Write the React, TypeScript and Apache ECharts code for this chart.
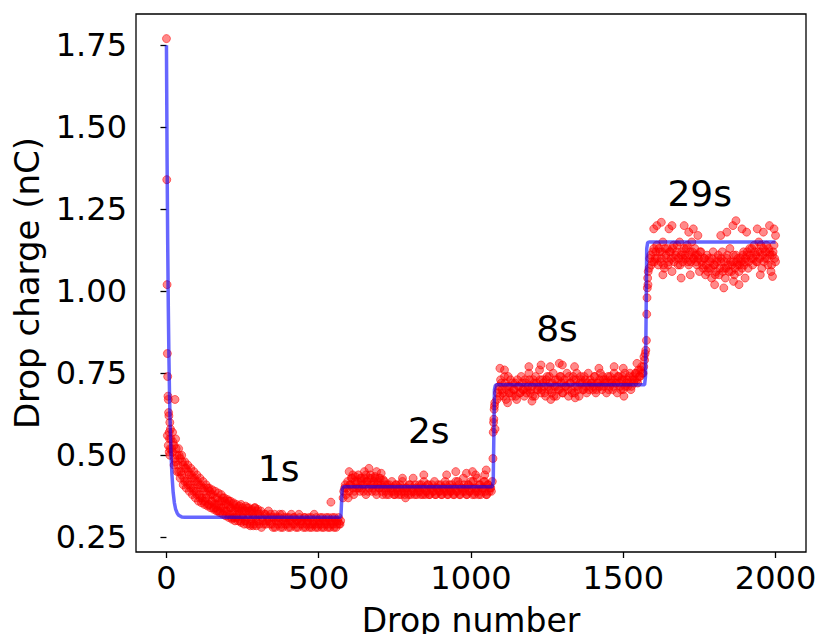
import React, { useEffect, useRef } from "react";
import * as echarts from "echarts";

const xTicks = [0, 500, 1000, 1500, 2000];
const yTicks = [0.25, 0.5, 0.75, 1.0, 1.25, 1.5, 1.75];

// first drops (explicit x)
const earlyX = [0, 1, 2, 3, 4, 5, 6, 7, 8, 9, 10, 11, 12, 13, 28, 3, 6, 9, 11];
const earlyY = [1.77, 1.34, 1.02, 0.81, 0.74, 0.68, 0.67, 0.63, 0.62, 0.57, 0.55, 0.6, 0.52, 0.58, 0.67, 0.56, 0.53, 0.51, 0.5];

// banded segments, drop number = start + step * index
const segStep = 5;
const seg1Start = 15;
const seg1Y = [
  0.55, 0.51, 0.53, 0.48, 0.5, 0.45, 0.49, 0.44, 0.47, 0.42, 0.46, 0.41, 0.44, 0.4, 0.43, 0.39, 0.42, 0.38, 0.41, 0.37,
  0.4, 0.36, 0.39, 0.37, 0.4, 0.35, 0.38, 0.36, 0.34, 0.37, 0.35, 0.33, 0.36, 0.34, 0.37, 0.33, 0.35, 0.32, 0.36, 0.34,
  0.31, 0.35, 0.33, 0.31, 0.34, 0.32, 0.35, 0.31, 0.33, 0.3, 0.34, 0.32, 0.29, 0.33, 0.31, 0.34, 0.3, 0.32, 0.29, 0.33,
  0.31, 0.29, 0.32, 0.3, 0.33, 0.29, 0.31, 0.28, 0.32, 0.3, 0.29, 0.31, 0.28, 0.32, 0.3, 0.29, 0.31, 0.28, 0.3, 0.32,
  0.29, 0.31, 0.28, 0.3, 0.32, 0.29, 0.3, 0.28, 0.31, 0.29, 0.3, 0.28, 0.31, 0.29, 0.32, 0.28, 0.3, 0.29, 0.31, 0.28,
  0.3, 0.29, 0.31, 0.28, 0.3, 0.29, 0.31, 0.28, 0.3, 0.29, 0.31, 0.29,
];
const seg1bStart = 17;
const seg1bY = [
  0.52, 0.54, 0.49, 0.52, 0.47, 0.5, 0.45, 0.48, 0.43, 0.46,
  0.42, 0.45, 0.41, 0.44, 0.4, 0.43, 0.39, 0.42, 0.38, 0.41,
  0.37, 0.4, 0.36, 0.38, 0.35, 0.39, 0.36, 0.38, 0.35, 0.34,
  0.37, 0.35, 0.33, 0.36, 0.34, 0.36, 0.33, 0.35, 0.32, 0.34,
  0.33, 0.31, 0.34, 0.32, 0.33, 0.3, 0.33, 0.32, 0.3, 0.33,
  0.31, 0.33, 0.3, 0.32, 0.29, 0.31, 0.33, 0.3, 0.32, 0.28,
  0.3, 0.32, 0.29, 0.31, 0.3, 0.32, 0.29, 0.31, 0.28, 0.31,
  0.3, 0.32, 0.29, 0.28, 0.31, 0.3, 0.29, 0.31, 0.28, 0.3,
  0.31, 0.29, 0.3, 0.28, 0.31, 0.3, 0.29, 0.31, 0.28, 0.3,
  0.31, 0.29, 0.28, 0.3, 0.29, 0.31, 0.28, 0.3, 0.29, 0.31,
  0.28, 0.3, 0.29, 0.31, 0.28, 0.3, 0.29, 0.31, 0.28, 0.3,
  0.29, 0.3,
];
// outer edges of the early decaying band
const seg1cStart = 20;
const seg1cY = [
  0.57, 0.47, 0.55, 0.45, 0.52, 0.43, 0.5, 0.41, 0.48, 0.4,
  0.47, 0.39, 0.46, 0.38, 0.45, 0.37, 0.44, 0.36, 0.43, 0.355,
  0.42, 0.35, 0.41, 0.345, 0.4, 0.34, 0.395, 0.335, 0.39, 0.33,
  0.385, 0.325, 0.38, 0.32, 0.37, 0.315, 0.365, 0.31, 0.36, 0.305,
  0.355, 0.3, 0.35, 0.3, 0.345, 0.295, 0.34, 0.29, 0.345, 0.29,
  0.34, 0.285, 0.335, 0.285, 0.34, 0.285, 0.335,
];
const seg2Start = 580;
const seg2Y = [
  0.37, 0.4, 0.38, 0.42, 0.39, 0.41, 0.43, 0.38, 0.42, 0.4, 0.44, 0.39, 0.42, 0.41, 0.43, 0.38, 0.42, 0.4, 0.44, 0.39,
  0.41, 0.43, 0.38, 0.42, 0.4, 0.41, 0.38, 0.42, 0.39, 0.41, 0.38, 0.4, 0.42, 0.39, 0.38, 0.41, 0.39, 0.4, 0.38, 0.42,
  0.39, 0.37, 0.4, 0.38, 0.41, 0.39, 0.43, 0.38, 0.4, 0.39, 0.41, 0.38, 0.4, 0.42, 0.38, 0.39, 0.41, 0.38, 0.4, 0.39,
  0.42, 0.38, 0.4, 0.39, 0.41, 0.38, 0.4, 0.42, 0.39, 0.38, 0.41, 0.39, 0.4, 0.38, 0.42, 0.39, 0.41, 0.38, 0.4, 0.43,
  0.39, 0.38, 0.41, 0.39, 0.42, 0.38, 0.4, 0.39, 0.43, 0.38, 0.41, 0.39, 0.4, 0.42, 0.38, 0.41, 0.39, 0.4, 0.42,
];
const seg2bStart = 582;
const seg2bY = [
  0.39, 0.41, 0.4, 0.37, 0.41, 0.43, 0.4, 0.39, 0.41, 0.42,
  0.4, 0.43, 0.4, 0.39, 0.41, 0.42, 0.39, 0.43, 0.41, 0.4,
  0.42, 0.39, 0.41, 0.4, 0.43, 0.39, 0.4, 0.41, 0.38, 0.4,
  0.41, 0.39, 0.4, 0.38, 0.41, 0.4, 0.38, 0.41, 0.39, 0.4,
  0.38, 0.4, 0.39, 0.41, 0.38, 0.4, 0.39, 0.41, 0.38, 0.4,
  0.39, 0.41, 0.38, 0.4, 0.39, 0.41, 0.38, 0.4, 0.41, 0.39,
  0.38, 0.4, 0.41, 0.39, 0.38, 0.4, 0.39, 0.41, 0.38, 0.4,
  0.39, 0.41, 0.38, 0.4, 0.39, 0.42, 0.38, 0.4, 0.39, 0.41,
  0.4, 0.38, 0.41, 0.39, 0.4, 0.42, 0.38, 0.4, 0.39, 0.41,
  0.38, 0.4, 0.42, 0.39, 0.38, 0.41, 0.4, 0.39,
];
const seg3Start = 1085;
const seg3Y = [
  0.67, 0.7, 0.68, 0.72, 0.69, 0.74, 0.67, 0.71, 0.69, 0.73, 0.68, 0.7, 0.72, 0.67, 0.71, 0.69, 0.74, 0.7, 0.68, 0.72,
  0.7, 0.75, 0.69, 0.71, 0.73, 0.68, 0.72, 0.7, 0.76, 0.69, 0.73, 0.71, 0.68, 0.74, 0.7, 0.72, 0.69, 0.75, 0.71, 0.68,
  0.73, 0.7, 0.74, 0.69, 0.72, 0.71, 0.75, 0.68, 0.72, 0.7, 0.74, 0.69, 0.73, 0.71, 0.68, 0.74, 0.72, 0.7, 0.73, 0.69,
  0.75, 0.71, 0.72, 0.7, 0.74, 0.69, 0.72, 0.71, 0.75, 0.7, 0.73, 0.72, 0.69, 0.74, 0.71, 0.73, 0.7, 0.75, 0.72, 0.69,
  0.74, 0.71, 0.73, 0.7, 0.75, 0.72, 0.71, 0.74, 0.7, 0.73, 0.72, 0.75, 0.73, 0.76, 0.74, 0.77, 0.75, 0.79,
];
const seg3bStart = 1087;
const seg3bY = [
  0.69, 0.71, 0.73, 0.7, 0.68, 0.72, 0.7, 0.74, 0.71, 0.69,
  0.72, 0.7, 0.68, 0.73, 0.71, 0.69, 0.72, 0.7, 0.73, 0.69,
  0.71, 0.73, 0.7, 0.68, 0.72, 0.74, 0.7, 0.71, 0.73, 0.7,
  0.72, 0.69, 0.73, 0.71, 0.74, 0.7, 0.72, 0.68, 0.73, 0.71,
  0.7, 0.74, 0.72, 0.69, 0.73, 0.71, 0.7, 0.74, 0.72, 0.69,
  0.73, 0.71, 0.75, 0.7, 0.72, 0.73, 0.7, 0.74, 0.71, 0.72,
  0.7, 0.73, 0.72, 0.71, 0.74, 0.7, 0.72, 0.73, 0.71, 0.74,
  0.71, 0.73, 0.72, 0.7, 0.74, 0.72, 0.71, 0.73, 0.72, 0.74,
  0.72, 0.7, 0.74, 0.73, 0.71, 0.73, 0.72, 0.75, 0.71, 0.74,
  0.73, 0.75, 0.72, 0.74, 0.76, 0.75, 0.77,
];
const seg4Start = 1585;
const seg4Y = [
  1.07, 1.11, 1.09, 1.13, 1.1, 1.14, 1.08, 1.12, 1.1, 1.15, 1.07, 1.11, 1.13, 1.09, 1.12, 1.06, 1.14, 1.1, 1.12, 1.08,
  1.15, 1.11, 1.09, 1.13, 1.1, 1.14, 1.08, 1.12, 1.15, 1.1, 1.13, 1.09, 1.11, 1.06, 1.12, 1.08, 1.1, 1.05, 1.11, 1.07,
  1.09, 1.04, 1.12, 1.08, 1.06, 1.1, 1.05, 1.09, 1.12, 1.07, 1.04, 1.1, 1.08, 1.13, 1.06, 1.09, 1.05, 1.11, 1.08, 1.06,
  1.1, 1.07, 1.12, 1.09, 1.11, 1.07, 1.13, 1.1, 1.08, 1.14, 1.11, 1.09, 1.15, 1.12, 1.07, 1.13, 1.1, 1.14, 1.08, 1.12,
  1.06, 1.11, 1.14, 1.09,
];
const seg4bStart = 1587;
const seg4bY = [
  1.1, 1.08, 1.12, 1.09, 1.12, 1.1, 1.13, 1.09, 1.12, 1.08,
  1.13, 1.1, 1.08, 1.12, 1.1, 1.13, 1.09, 1.11, 1.14, 1.1,
  1.08, 1.12, 1.1, 1.11, 1.13, 1.09, 1.11, 1.09, 1.12, 1.1,
  1.11, 1.08, 1.1, 1.12, 1.09, 1.07, 1.1, 1.08, 1.06, 1.1,
  1.07, 1.1, 1.08, 1.05, 1.09, 1.11, 1.07, 1.1, 1.06, 1.09,
  1.07, 1.11, 1.06, 1.09, 1.08, 1.11, 1.07, 1.09, 1.1, 1.08,
  1.09, 1.11, 1.08, 1.1, 1.12, 1.09, 1.11, 1.13, 1.1, 1.12,
  1.09, 1.12, 1.1, 1.14, 1.11, 1.09, 1.12, 1.1, 1.13, 1.11,
  1.08, 1.12, 1.1,
];

// outliers and points on the steps (explicit x)
const extraX = [
  540, 600, 612, 650, 665, 690, 705, 775, 845, 920, 950, 985, 1005, 1015, 1045, 1050,
  620, 640, 655, 672, 685, 698, 712,
  1072, 1073, 1074, 1075, 1076, 1077, 1078, 1079,
  1095, 1110, 1190, 1230, 1260, 1290, 1300, 1340, 1420, 1470, 1500, 1545, 1572, 1568, 1120, 1200, 1262, 1342, 1502,
  1574, 1576, 1577, 1578, 1579, 1580, 1581, 1582,
  1600, 1610, 1625, 1650, 1660, 1700, 1715, 1730, 1745, 1820, 1840, 1860, 1870, 1890, 1905, 1940, 1960, 1980, 1995, 2000,
  1630, 1690, 1720, 1800, 1830, 1862, 1880, 1900, 1950, 1990,
];
const extraY = [
  0.357, 0.45, 0.44, 0.45, 0.46, 0.45, 0.445, 0.43, 0.44, 0.44, 0.45, 0.445, 0.45, 0.44, 0.44, 0.455,
  0.435, 0.43, 0.44, 0.43, 0.435, 0.43, 0.425,
  0.49, 0.57, 0.6, 0.61, 0.64, 0.65, 0.66, 0.58,
  0.765, 0.76, 0.77, 0.775, 0.77, 0.78, 0.775, 0.77, 0.765, 0.77, 0.765, 0.78, 0.81, 0.8, 0.66, 0.665, 0.67, 0.675, 0.68,
  0.82, 0.85, 0.93, 0.98, 1.01, 1.04, 1.02, 1.06,
  1.19, 1.2, 1.21, 1.19, 1.2, 1.2, 1.18, 1.19, 1.17, 1.17, 1.18, 1.2, 1.215, 1.19, 1.18, 1.19, 1.18, 1.2, 1.19, 1.17,
  1.05, 1.04, 1.05, 1.02, 1.01, 1.03, 1.02, 1.04, 1.05, 1.045,
];

// fitted model curve
const fitX = [0, 2, 4, 6, 8, 10, 12, 15, 18, 22, 26, 30, 35, 40, 50, 60, 570, 573, 575, 577, 580, 585,
  1070, 1073, 1075, 1077, 1080, 1085, 1570, 1573, 1575, 1577, 1580, 1585, 2000];
const fitY = [1.75, 1.41, 1.155, 0.957, 0.805, 0.689, 0.6, 0.505, 0.441, 0.387, 0.355, 0.336, 0.324, 0.317, 0.312, 0.311, 0.311, 0.316, 0.357, 0.396, 0.403, 0.404,
  0.404, 0.42, 0.56, 0.7, 0.713, 0.715, 0.715, 0.74, 0.93, 1.13, 1.148, 1.15, 1.15];

const noteTexts = ["1s", "2s", "8s", "29s"];
const noteX = [300, 793, 1214, 1645];
const noteY = [0.461, 0.574, 0.886, 1.298];

const FONT = "DejaVu Sans";

function buildPoints(): number[][] {
  const pts: number[][] = [];
  earlyX.forEach((x, i) => pts.push([x, earlyY[i]]));
  const segs: [number, number[]][] = [
    [seg1Start, seg1Y],
    [seg1bStart, seg1bY],
    [seg1cStart, seg1cY],
    [seg2Start, seg2Y],
    [seg2bStart, seg2bY],
    [seg3Start, seg3Y],
    [seg3bStart, seg3bY],
    [seg4Start, seg4Y],
    [seg4bStart, seg4bY],
  ];
  segs.forEach(([start, ys]) => ys.forEach((y, i) => pts.push([start + segStep * i, y])));
  extraX.forEach((x, i) => pts.push([x, extraY[i]]));
  return pts;
}

export default function App() {
  const ref = useRef<HTMLDivElement>(null);
  useEffect(() => {
    document.body.style.margin = "0";
    if (!ref.current) return;
    const chart = echarts.init(ref.current, undefined, { renderer: "svg" });
    const tickStyle = { color: "#000", width: 1.3 };
    chart.setOption({
      animation: false,
      backgroundColor: "#fff",
      grid: {
        left: 136, right: 10, top: 14, bottom: 82,
        show: true, borderColor: "#000", borderWidth: 1.3,
        outerBoundsMode: "none", containLabel: false,
      },
      xAxis: {
        type: "value",
        min: -100,
        max: 2100,
        splitLine: { show: false },
        axisLine: { show: false },
        axisTick: { show: true, customValues: xTicks, length: 6, lineStyle: tickStyle },
        axisLabel: {
          customValues: xTicks, fontSize: 32, color: "#000", fontFamily: FONT, margin: 10,
          formatter: (v: number) => String(v),
        },
        name: "Drop number",
        nameLocation: "middle",
        nameGap: 52,
        nameTextStyle: { fontSize: 33, color: "#000", fontFamily: FONT },
      },
      yAxis: {
        type: "value",
        min: 0.205,
        max: 1.845,
        splitLine: { show: false },
        axisLine: { show: false },
        axisTick: { show: true, customValues: yTicks, length: 6, lineStyle: tickStyle },
        axisLabel: {
          customValues: yTicks,
          fontSize: 32,
          color: "#000",
          fontFamily: FONT,
          margin: 9,
          formatter: (v: number) => v.toFixed(2),
        },
        name: "Drop charge (nC)",
        nameLocation: "middle",
        nameGap: 92,
        nameTextStyle: { fontSize: 34, color: "#000", fontFamily: FONT },
      },
      series: [
        {
          type: "scatter",
          data: buildPoints(),
          symbolSize: 8,
          itemStyle: { color: "rgba(255,0,0,0.58)", borderColor: "rgba(255,0,0,0.65)", borderWidth: 1 },
          z: 2,
          silent: true,
        },
        {
          type: "line",
          data: fitX.map((x, i) => [x, fitY[i]]),
          showSymbol: false,
          symbol: "none",
          lineStyle: { color: "rgba(0,0,255,0.6)", width: 3.5 },
          z: 3,
          silent: true,
        },
      ],
    });
    const notes = noteTexts.map((t, i) => {
      const p = chart.convertToPixel({ gridIndex: 0 }, [noteX[i], noteY[i]]) as number[];
      return {
        type: "text",
        x: p[0],
        y: p[1],
        silent: true,
        z: 10,
        style: {
          text: t,
          fill: "#000",
          fontSize: 36,
          fontFamily: FONT,
          align: "left",
          verticalAlign: "middle",
        },
      };
    });
    chart.setOption({ graphic: notes });
    return () => chart.dispose();
  }, []);
  return <div ref={ref} style={{ width: 816, height: 634 }} />;
}
